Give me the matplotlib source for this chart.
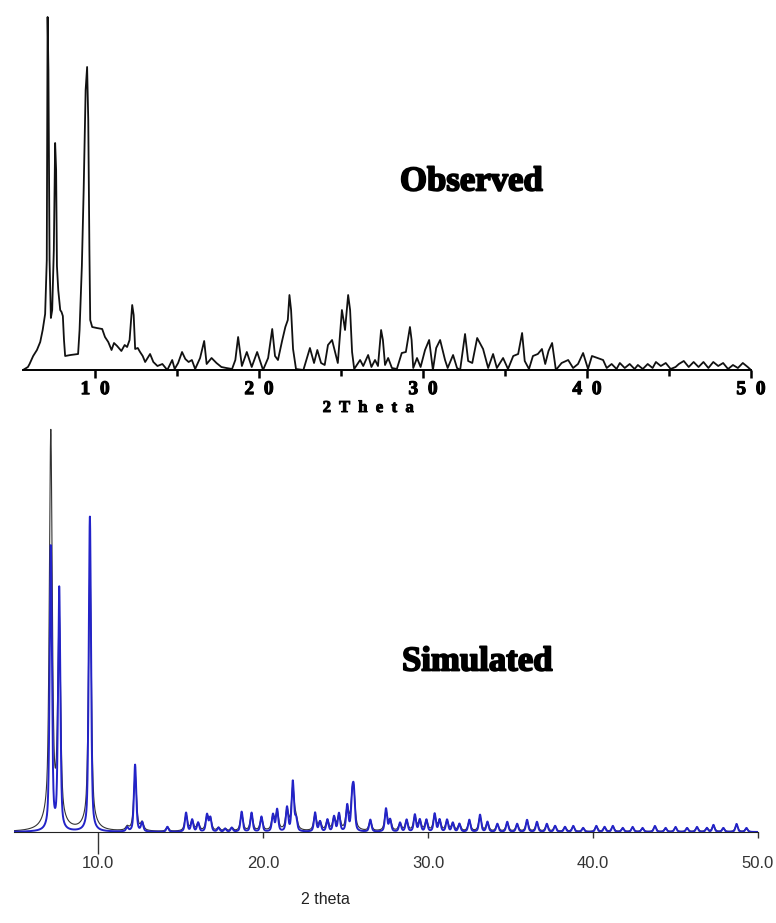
import numpy as np
import matplotlib
matplotlib.use("Agg")
import matplotlib.pyplot as plt
import matplotlib.patheffects as pe

# observed pattern: (2theta, counts)
obs_points = [
    (5.6, 0), (5.9, 3), (6.0, 6), (6.22, 14), (6.45, 20), (6.65, 28), (6.8, 40), (6.95, 56),
    (7.05, 110), (7.1, 353), (7.15, 300), (7.22, 110), (7.3, 52), (7.38, 60), (7.48, 120),
    (7.56, 227), (7.62, 200), (7.67, 104), (7.75, 80), (7.87, 60), (7.95, 58), (8.03, 54),
    (8.1, 30), (8.17, 14), (8.5, 15), (8.96, 16), (9.05, 40), (9.19, 104), (9.3, 180),
    (9.42, 280), (9.51, 303), (9.58, 250), (9.65, 120), (9.7, 50), (9.82, 43), (10.1, 42),
    (10.43, 41), (10.6, 33), (10.8, 28), (11.0, 20), (11.15, 27), (11.34, 24), (11.6, 19),
    (11.8, 25), (11.95, 23), (12.1, 30), (12.26, 65), (12.35, 55), (12.44, 21), (12.6, 22),
    (12.74, 18), (12.9, 14), (13.05, 8), (13.2, 12), (13.35, 16), (13.55, 8), (13.8, 4),
    (14.1, 6), (14.4, 0), (14.7, 10), (14.85, 1), (15.06, 7), (15.3, 18), (15.5, 11),
    (15.7, 8), (15.9, 10), (16.1, 1), (16.4, 12), (16.65, 29), (16.8, 6), (17.1, 12),
    (17.4, 7), (17.7, 3), (18.0, 2), (18.35, 1), (18.55, 10), (18.72, 33), (18.95, 4),
    (19.25, 18), (19.55, 3), (19.88, 18), (20.24, 0), (20.55, 12), (20.8, 41), (20.97, 14),
    (21.15, 10), (21.4, 29), (21.6, 43), (21.75, 50), (21.85, 75), (21.95, 60), (22.07, 21),
    (22.25, 1), (22.7, 0), (22.9, 11), (23.1, 22), (23.35, 7), (23.55, 20), (23.78, 7),
    (24.0, 5), (24.2, 25), (24.45, 30), (24.63, 18), (24.8, 7), (25.05, 60), (25.15, 50),
    (25.24, 40), (25.43, 75), (25.55, 60), (25.67, 18), (25.8, 1), (26.16, 10), (26.35, 4),
    (26.65, 15), (26.85, 3), (27.07, 10), (27.25, 4), (27.44, 40), (27.55, 30), (27.68, 5),
    (27.87, 12), (28.1, 2), (28.4, 1), (28.7, 17), (28.95, 18), (29.2, 43), (29.3, 30),
    (29.4, 2), (29.63, 12), (29.85, 3), (30.12, 20), (30.37, 30), (30.6, 0), (30.8, 22),
    (31.04, 30), (31.34, 10), (31.5, 2), (31.83, 15), (32.07, 2), (32.26, 0), (32.56, 36),
    (32.75, 9), (33.0, 7), (33.3, 32), (33.66, 21), (33.97, 2), (34.27, 16), (34.5, 2),
    (34.88, 12), (35.18, 1), (35.5, 14), (35.8, 16), (36.04, 37), (36.2, 9), (36.46, 1),
    (36.7, 14), (37.0, 16), (37.25, 21), (37.45, 6), (37.65, 19), (37.87, 27), (38.1, 0),
    (38.45, 7), (38.85, 10), (39.15, 2), (39.45, 6), (39.76, 17), (40.06, 1), (40.3, 14),
    (40.65, 12), (40.98, 10), (41.2, 2), (41.5, 6), (41.8, 1), (42.0, 7), (42.3, 2),
    (42.6, 6), (42.9, 1), (43.1, 5), (43.4, 1), (43.7, 6), (44.0, 2), (44.2, 8), (44.5, 4),
    (44.8, 7), (45.1, 1), (45.4, 3), (45.6, 6), (45.9, 9), (46.2, 3), (46.5, 8), (46.8, 3),
    (47.1, 8), (47.4, 2), (47.7, 8), (48.0, 4), (48.3, 7), (48.6, 1), (48.9, 5), (49.2, 2),
    (49.5, 7), (49.8, 3), (50.0, 0),
]
obs_x = [p[0] for p in obs_points]
obs_y = [p[1] for p in obs_points]

# simulated pattern: peak positions and heights
sim_pos = [7.13, 7.64, 9.5, 11.76, 12.24, 12.67, 14.2, 15.33, 15.7, 16.06, 16.6, 16.8, 17.3, 17.7,
           18.1, 18.7, 19.3, 19.9, 20.6, 20.85, 21.45, 21.8, 22.0, 23.15, 23.45, 23.9, 24.3, 24.6,
           25.1, 25.4, 25.5, 26.5, 27.45, 27.7, 28.3, 28.7, 29.2, 29.5, 29.9, 30.4, 30.7, 31.15,
           31.5, 31.9, 32.5, 33.15, 33.6, 34.2, 34.8, 35.4, 36.0, 36.6, 37.2, 37.7, 38.3, 38.8,
           39.4, 40.2, 40.7, 41.2, 41.8, 42.4, 43.0, 43.75, 44.4, 45.0, 45.7, 46.3, 46.9, 47.3,
           47.9, 48.7, 49.3]
sim_int = [284, 242, 315, 4, 67, 9, 5, 19, 12, 9, 17, 14, 4, 3,
           4, 20, 19, 15, 17, 22, 24, 50, 12, 19, 10, 12, 15, 18,
           26, 30, 36, 12, 23, 12, 9, 12, 17, 12, 12, 18, 12, 12,
           9, 8, 12, 17, 10, 8, 10, 8, 12, 10, 8, 6, 5, 6,
           4, 6, 5, 6, 4, 5, 4, 6, 4, 5, 4, 5, 4, 7,
           4, 8, 4]
first_peak_black = 395  # black trace overshoots the blue one at 7.1

obs_ticks = [10, 20, 30, 40, 50]
obs_ticklabels = ["1  0", "2  0", "3  0", "4  0", "5  0"]
sim_ticks = [10, 20, 30, 40, 50]
sim_ticklabels = ["10.0", "20.0", "30.0", "40.0", "50.0"]


def pv(x, pos, h, hw, eta=0.5):
    # pseudo-voigt profile summed over the peak list
    y = np.zeros_like(x)
    for p, a in zip(pos, h):
        d = ((x - p) / hw) ** 2
        y += a * (eta / (1 + d) + (1 - eta) * np.exp(-np.log(2) * d))
    return y


heavy = [pe.withStroke(linewidth=1.3, foreground="black")]

fig = plt.figure(figsize=(7.76, 9.23), dpi=100)

# ---- observed ----
ax1 = fig.add_axes([23 / 776, 1 - 370 / 923, 728 / 776, 370 / 923])
ax1.plot(obs_x, obs_y, color="#111111", lw=1.3)
ax1.set_xlim(5.6, 50.0)
ax1.set_ylim(0, 370)
for s in ["top", "right", "left"]:
    ax1.spines[s].set_visible(False)
ax1.spines["bottom"].set_linewidth(1.4)
ax1.set_yticks([])
ax1.set_xticks(obs_ticks)
ax1.set_xticks([15, 25, 35, 45], minor=True)
ax1.set_xticklabels(obs_ticklabels, fontfamily="Liberation Serif", fontweight="bold", fontsize=14)
for t in ax1.get_xticklabels():
    t.set_path_effects([pe.withStroke(linewidth=0.8, foreground="black")])
ax1.tick_params(axis="x", which="major", length=6, width=1.8, pad=2)
ax1.tick_params(axis="x", which="minor", length=4, width=1.8)
fig.text(368 / 776, 1 - 408 / 923, "2  T  h  e  t  a", ha="center", va="center",
         fontfamily="Liberation Serif", fontweight="bold", fontsize=12,
         path_effects=[pe.withStroke(linewidth=0.7, foreground="black")])
fig.text(400 / 776, 1 - 182 / 923, "Observed", ha="left", va="center",
         fontfamily="Liberation Serif", fontweight="bold", fontsize=25, path_effects=heavy)

# ---- simulated ----
ax2 = fig.add_axes([14 / 776, 1 - 832 / 923, 744 / 776, 412 / 923])
x = np.linspace(4.9, 50.0, 8000)
black_int = [first_peak_black] + [v * 0.85 for v in sim_int[1:]]
y_black = pv(x, sim_pos, black_int, 0.1) * 0.93 + pv(x, sim_pos, black_int, 0.3, eta=1.0) * 0.07
y_blue = pv(x, sim_pos, sim_int, 0.08)
ax2.plot(x, y_black, color="#333333", lw=0.8)
ax2.plot(x, y_blue, color="#2323c8", lw=1.4)
ax2.set_xlim(4.9, 50.0)
ax2.set_ylim(0, 412)
for s in ["top", "right", "left"]:
    ax2.spines[s].set_visible(False)
ax2.spines["bottom"].set_color("#222222")
ax2.set_yticks([])
ax2.set_xticks(sim_ticks)
ax2.set_xticklabels(sim_ticklabels, fontfamily="Liberation Sans", fontsize=12, color="#333333")
ax2.tick_params(axis="x", length=4, width=1.0, color="#333333", pad=13)
ax2.xaxis.get_major_ticks()[0].tick1line.set_markersize(16)
fig.text(325 / 776, 1 - 900 / 923, "2 theta", ha="center", va="center",
         fontfamily="Liberation Sans", fontsize=11.5, color="#222222")
fig.text(402 / 776, 1 - 662 / 923, "Simulated", ha="left", va="center",
         fontfamily="Liberation Serif", fontweight="bold", fontsize=25, path_effects=heavy)

fig.savefig("out.png", dpi=100)
